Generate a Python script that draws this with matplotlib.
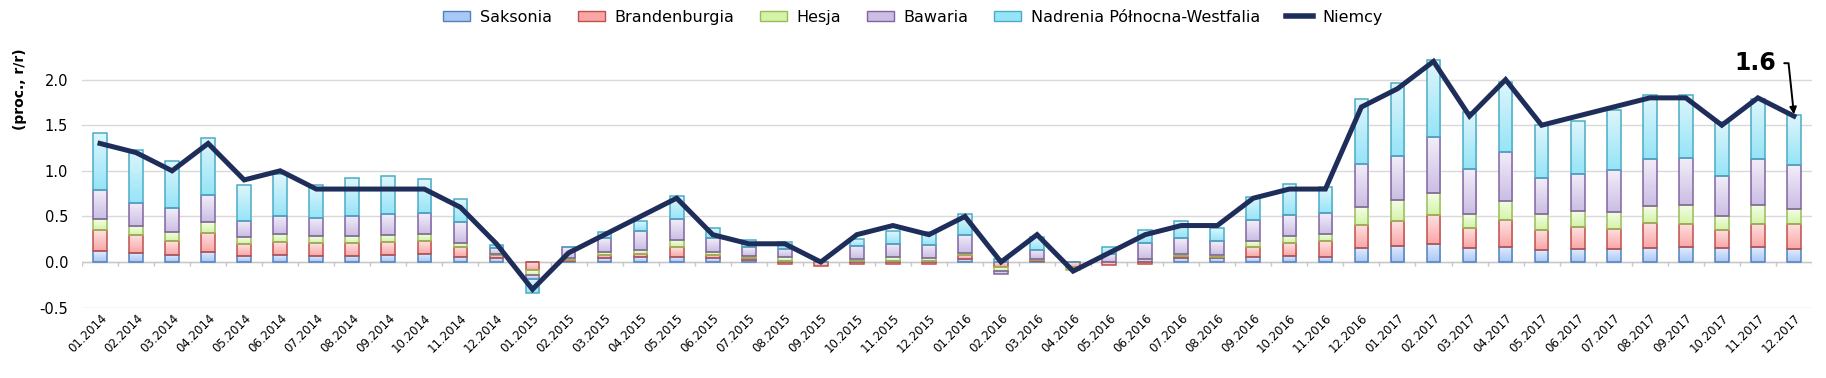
import numpy as np
import matplotlib
matplotlib.use("Agg")
import matplotlib.pyplot as plt
from matplotlib.colors import LinearSegmentedColormap
from matplotlib.patches import Patch
from matplotlib.lines import Line2D

months = [f"{m:02d}.{y}" for y in (2014, 2015, 2016, 2017) for m in range(1, 13)]

# contributions of each land (pp)
saksonia = [0.12, 0.10, 0.08, 0.11, 0.07, 0.08, 0.07, 0.07, 0.08, 0.09, 0.05, 0.04,
            0.00, 0.01, 0.04, 0.05, 0.06, 0.04, 0.02, 0.01, 0.00, 0.01, 0.01, 0.01,
            0.03, 0.00, 0.01, 0.00, 0.00, 0.03, 0.04, 0.04, 0.05, 0.07, 0.06, 0.15,
            0.18, 0.20, 0.15, 0.17, 0.13, 0.14, 0.14, 0.15, 0.16, 0.15, 0.16, 0.14]
brandenburgia = [0.23, 0.20, 0.15, 0.21, 0.13, 0.14, 0.14, 0.14, 0.14, 0.14, 0.12, 0.04,
                 -0.09, 0.01, 0.04, 0.04, 0.10, 0.04, 0.02, -0.02, -0.04, -0.02, -0.02, -0.02,
                 0.05, -0.06, 0.01, -0.05, -0.03, -0.02, 0.03, 0.01, 0.12, 0.14, 0.17, 0.26,
                 0.27, 0.32, 0.22, 0.29, 0.22, 0.24, 0.22, 0.28, 0.26, 0.20, 0.26, 0.28]
hesja = [0.12, 0.09, 0.10, 0.12, 0.07, 0.09, 0.07, 0.07, 0.08, 0.08, 0.04, 0.01,
         -0.05, 0.02, 0.03, 0.04, 0.08, 0.03, 0.03, 0.04, 0.00, 0.02, 0.04, 0.03,
         0.02, -0.035, 0.01, -0.04, 0.00, 0.00, 0.02, 0.03, 0.06, 0.08, 0.08, 0.19,
         0.23, 0.24, 0.16, 0.21, 0.18, 0.18, 0.19, 0.18, 0.21, 0.16, 0.20, 0.16]
bawaria = [0.32, 0.26, 0.26, 0.29, 0.18, 0.20, 0.20, 0.23, 0.23, 0.23, 0.23, 0.06,
           -0.05, 0.12, 0.15, 0.21, 0.23, 0.15, 0.09, 0.09, 0.00, 0.15, 0.15, 0.15,
           0.20, -0.035, 0.10, 0.00, 0.09, 0.18, 0.17, 0.15, 0.23, 0.23, 0.23, 0.48,
           0.48, 0.61, 0.49, 0.54, 0.39, 0.41, 0.46, 0.52, 0.51, 0.43, 0.51, 0.48]
nrw = [0.63, 0.58, 0.52, 0.63, 0.39, 0.45, 0.36, 0.41, 0.41, 0.37, 0.25, 0.04,
       -0.15, 0.00, 0.07, 0.11, 0.25, 0.11, 0.08, 0.08, 0.00, 0.07, 0.14, 0.14,
       0.23, 0.03, 0.14, 0.00, 0.07, 0.14, 0.19, 0.14, 0.25, 0.33, 0.28, 0.71,
       0.80, 0.84, 0.62, 0.76, 0.58, 0.58, 0.66, 0.70, 0.69, 0.59, 0.66, 0.55]
niemcy = [1.3, 1.2, 1.0, 1.3, 0.9, 1.0, 0.8, 0.8, 0.8, 0.8, 0.6, 0.2,
          -0.3, 0.1, 0.3, 0.5, 0.7, 0.3, 0.2, 0.2, 0.0, 0.3, 0.4, 0.3,
          0.5, 0.0, 0.3, -0.1, 0.1, 0.3, 0.4, 0.4, 0.7, 0.8, 0.8, 1.7,
          1.9, 2.2, 1.6, 2.0, 1.5, 1.6, 1.7, 1.8, 1.8, 1.5, 1.8, 1.6]

series = [
    ("Saksonia", saksonia, "#e2ecfd", "#a9c8f6", "#4f81bd"),
    ("Brandenburgia", brandenburgia, "#fde2e2", "#faa6a6", "#c0504d"),
    ("Hesja", hesja, "#f5fdea", "#d3f4a6", "#9bbb59"),
    ("Bawaria", bawaria, "#f2eef9", "#cbbde4", "#8064a2"),
    ("Nadrenia Północna-Westfalia", nrw, "#def6fc", "#96e4f7", "#4bacc6"),
]

fig = plt.figure(figsize=(18.26, 3.78), dpi=100)
ax = fig.add_axes([0.0449, 0.1862, 0.9474, 0.7238])

x = np.arange(len(months))
width = 0.38
pos_bottom = np.zeros(len(months))
neg_bottom = np.zeros(len(months))
grad = np.linspace(0, 1, 64).reshape(-1, 1)

for name, vals, c_top, c_bot, edge in series:
    vals = np.array(vals, dtype=float)
    bottom = np.where(vals >= 0, pos_bottom, neg_bottom)
    bars = ax.bar(x, vals, width, bottom=bottom, facecolor="none",
                  edgecolor=edge, linewidth=1.1, zorder=3)
    cmap = LinearSegmentedColormap.from_list(name, [c_bot, c_top])
    for b in bars:
        h = b.get_height()
        if abs(h) < 1e-9:
            continue
        x0 = b.get_x()
        y0 = b.get_y()
        lo, hi = min(y0, y0 + h), max(y0, y0 + h)
        im = ax.imshow(grad, cmap=cmap, origin="lower", aspect="auto",
                       extent=(x0, x0 + b.get_width(), lo, hi), zorder=2.5,
                       interpolation="bilinear")
        im.set_clip_path(b)
    pos_bottom += np.where(vals > 0, vals, 0)
    neg_bottom += np.where(vals < 0, vals, 0)

ax.plot(x, niemcy, color="#1f2d5a", lw=3.6, zorder=5, solid_joinstyle="miter")

ax.set_xlim(-0.5, len(months) - 0.5)
ax.set_ylim(-0.5, 2.5)
ax.set_yticks([-0.5, 0.0, 0.5, 1.0, 1.5, 2.0])
ax.set_yticklabels(["-0.5", "0.0", "0.5", "1.0", "1.5", "2.0"], fontsize=10.5)
ax.yaxis.grid(True, color="#d9d9d9", lw=1)
ax.set_axisbelow(True)
for s in ax.spines.values():
    s.set_visible(False)
ax.tick_params(axis="y", length=0, pad=10)
ax.tick_params(axis="x", length=0, pad=3)
ax.set_xticks(x)
ax.set_xticklabels(months, rotation=45, ha="right", rotation_mode="anchor", fontsize=8.5)

# zero axis with category separators
ax.axhline(0, color="#c8c8c8", lw=1, zorder=2)
ax.vlines(np.arange(-0.5, len(months)), -0.045, 0, color="#c8c8c8", lw=1, zorder=2)

ax.set_ylabel("(proc., r/r)", fontsize=10, fontweight="bold", labelpad=6)
ax.yaxis.set_label_coords(-0.032, 0.8)

ax.annotate("1.6", xy=(47, 1.62), xytext=(46.5, 2.18),
            ha="right", va="center", fontsize=17, fontweight="bold",
            arrowprops=dict(arrowstyle="-|>", color="black", lw=1.4,
                            connectionstyle="angle,angleA=0,angleB=96,rad=0",
                            shrinkA=4, shrinkB=0, mutation_scale=10),
            zorder=6)

handles = [Patch(facecolor=c_bot, edgecolor=edge, label=name)
           for name, _, c_top, c_bot, edge in series]
handles.append(Line2D([0], [0], color="#1f2d5a", lw=4, label="Niemcy"))
fig.legend(handles=handles, loc="center", bbox_to_anchor=(0.5, 0.955), ncol=6,
           frameon=False, fontsize=11.5, handlelength=1.7, handleheight=0.6,
           handletextpad=0.6, columnspacing=1.6)

fig.savefig("out.png", dpi=100)
